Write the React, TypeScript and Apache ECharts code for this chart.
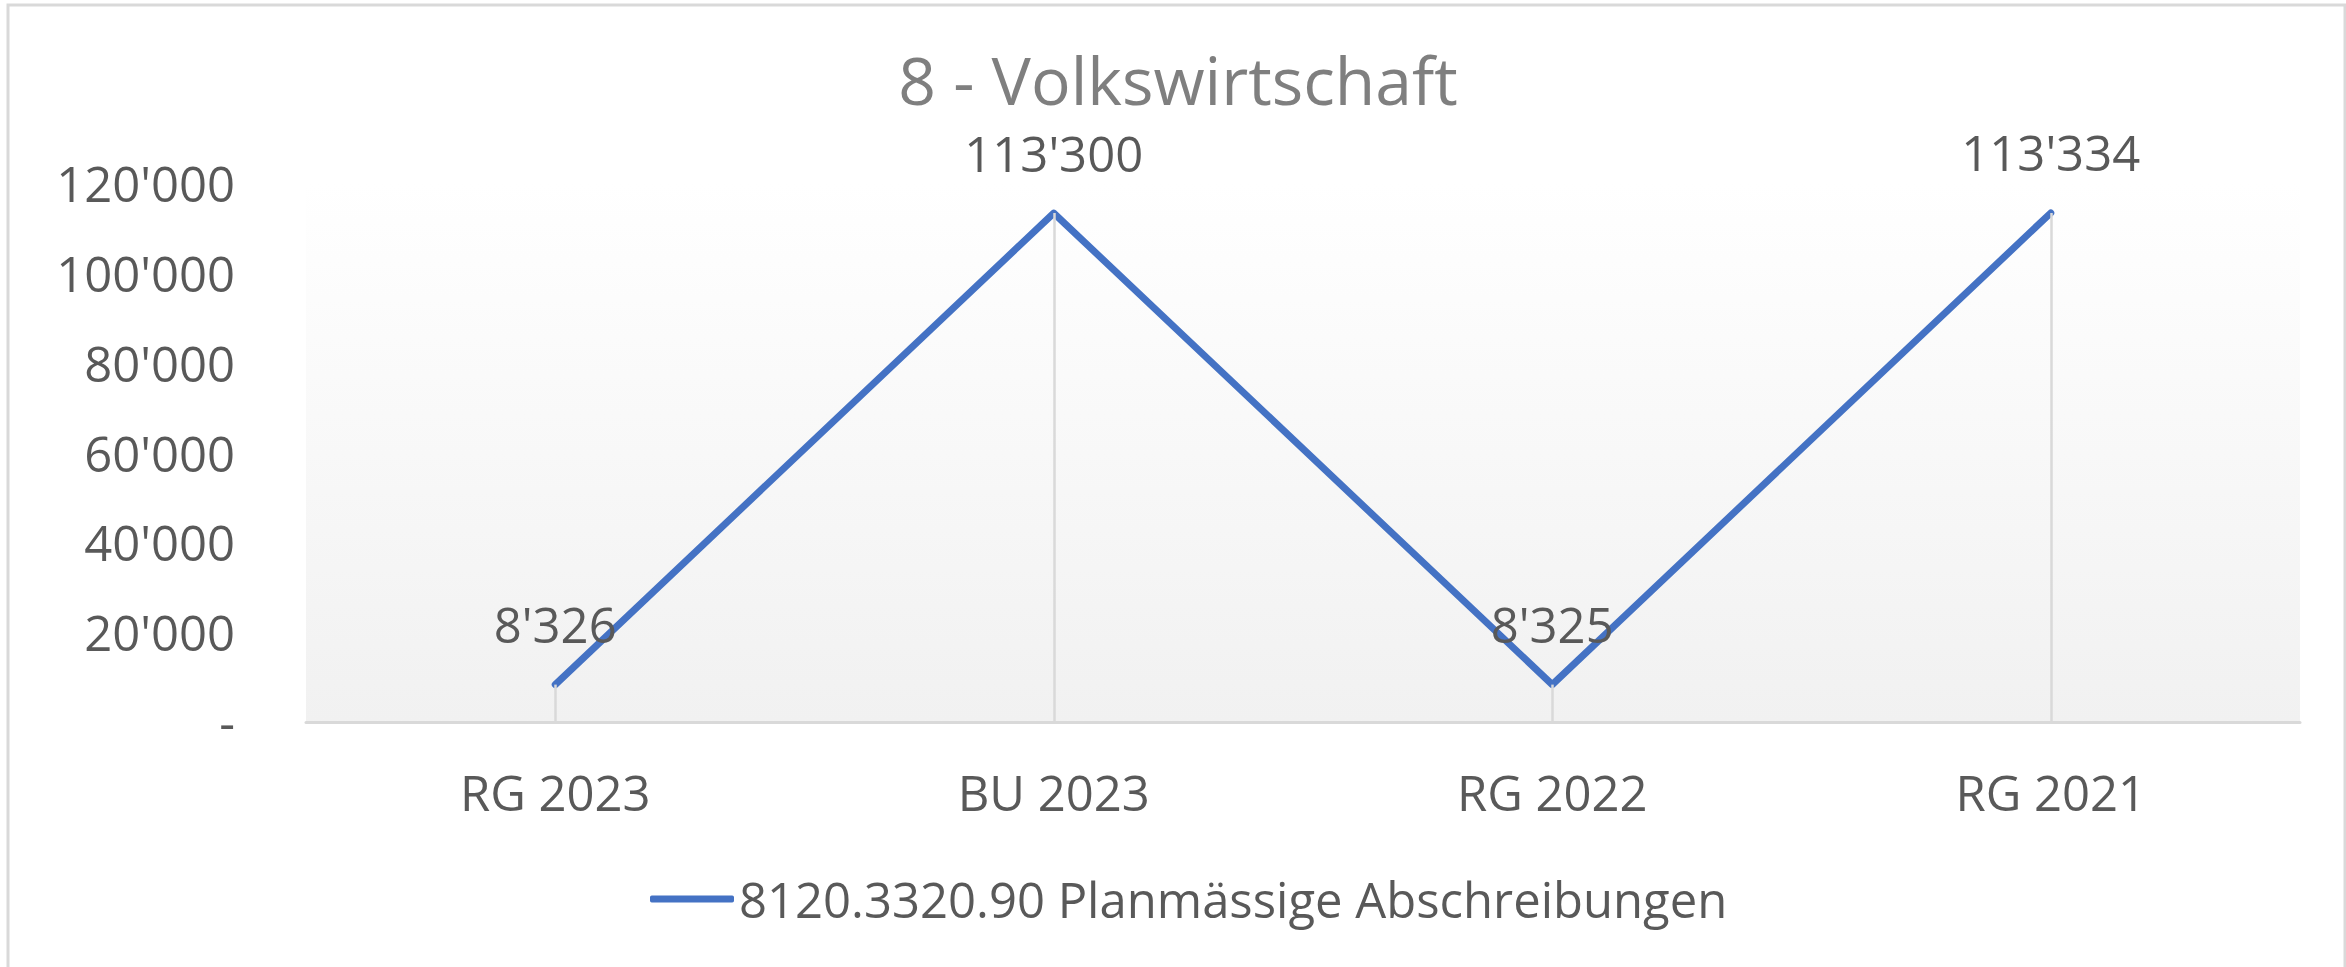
import React, { useEffect, useRef } from "react";
import * as echarts from "echarts";

const categories = ["RG 2023", "BU 2023", "RG 2022", "RG 2021"];
const values = [8326, 113300, 8325, 113334];
const seriesName = "8120.3320.90 Planmässige Abschreibungen";
const titleText = "8 - Volkswirtschaft";
const yMin = 0;
const yMax = 120000;
const yInterval = 20000;

const fmt = (v: number) =>
  v === 0 ? "-" : Math.round(v).toString().replace(/\B(?=(\d{3})+(?!\d))/g, "'");

const FONT = "'Open Sans', 'Noto Sans', sans-serif";
const LABEL_COLOR = "#595959";
const LINE_COLOR = "#4472c4";

export default function App() {
  const ref = useRef<HTMLDivElement>(null);
  useEffect(() => {
    if (!ref.current) return;
    const chart = echarts.init(ref.current, undefined, { renderer: "svg" });
    chart.setOption({
      animation: false,
      backgroundColor: "#ffffff",
      graphic: [
        {
          type: "rect",
          shape: { x: 8, y: 5, width: 2337, height: 975 },
          style: { fill: "none", stroke: "#d9d9d9", lineWidth: 3 },
          silent: true,
          z: 0,
        },
        {
          type: "text",
          x: 1178,
          y: 79,
          style: {
            text: titleText,
            fill: "#7f7f7f",
            fontSize: 66,
            fontFamily: FONT,
            textAlign: "center",
            textVerticalAlign: "middle",
          },
          silent: true,
        },
      ],
      grid: {
        left: 306,
        right: 46,
        top: 183,
        bottom: 245,
        containLabel: false,
        show: true,
        borderWidth: 0,
        backgroundColor: new echarts.graphic.LinearGradient(0, 0, 0, 1, [
          { offset: 0, color: "#ffffff" },
          { offset: 1, color: "#f1f1f1" },
        ]),
      },
      legend: {
        show: true,
        left: 645,
        top: 866,
        itemWidth: 84,
        itemHeight: 7,
        textStyle: {
          color: LABEL_COLOR,
          fontSize: 49,
          fontFamily: FONT,
          lineHeight: 56,
        },
        data: [
          {
            name: seriesName,
            icon: "roundRect",
            itemStyle: { color: LINE_COLOR },
          },
        ],
      },
      xAxis: {
        type: "category",
        data: categories,
        boundaryGap: true,
        axisLine: { show: true, lineStyle: { color: "#d9d9d9", width: 3 } },
        axisTick: { show: false },
        splitLine: { show: false },
        axisLabel: {
          color: LABEL_COLOR,
          fontSize: 49,
          fontFamily: FONT,
          lineHeight: 56,
          margin: 42,
        },
      },
      yAxis: {
        type: "value",
        min: yMin,
        max: yMax,
        interval: yInterval,
        axisLine: { show: false },
        axisTick: { show: false },
        splitLine: { show: false },
        axisLabel: {
          color: LABEL_COLOR,
          fontSize: 49,
          fontFamily: FONT,
          margin: 71,
          formatter: (v: number) => fmt(v),
        },
      },
      series: [
        {
          name: "drop",
          type: "line",
          data: values,
          z: 1,
          silent: true,
          symbol: "none",
          lineStyle: { opacity: 0 },
          markLine: {
            silent: true,
            symbol: "none",
            label: { show: false },
            lineStyle: { color: "#d9d9d9", width: 2.5, type: "solid" },
            data: categories.map((c, i) => [
              { coord: [c, 0] },
              { coord: [c, values[i]] },
            ]),
          },
        },
        {
          name: seriesName,
          type: "line",
          data: values,
          z: 3,
          symbol: "circle",
          symbolSize: 1,
          showSymbol: true,
          itemStyle: { color: "rgba(0,0,0,0)" },
          lineStyle: { color: LINE_COLOR, width: 7, cap: "round", join: "round" },
          label: {
            show: true,
            position: "top",
            distance: 32,
            color: LABEL_COLOR,
            fontSize: 49,
            fontFamily: FONT,
            lineHeight: 56,
            formatter: (p: any) => fmt(p.value),
          },
        },
      ],
    });
    return () => chart.dispose();
  }, []);
  return (
    <div
      ref={ref}
      style={{ position: "absolute", left: 0, top: 0, width: 2346, height: 967 }}
    />
  );
}
